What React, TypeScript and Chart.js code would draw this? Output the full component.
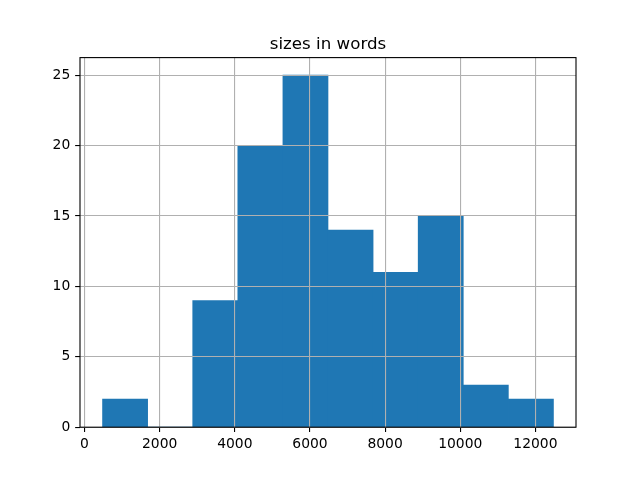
import React, { useEffect, useRef } from "react";
import { Chart, registerables } from "chart.js";

Chart.register(...registerables);

const binEdges = [480, 1680, 2880, 4080, 5280, 6480, 7680, 8880, 10080, 11280, 12480];
const counts = [2, 0, 9, 20, 25, 14, 11, 15, 3, 2];
const xTicks = [0, 2000, 4000, 6000, 8000, 10000, 12000];
const yTicks = [0, 5, 10, 15, 20, 25];
const titleText = "sizes in words";

const FONT = "'DejaVu Sans', sans-serif";

export default function App() {
  const ref = useRef<HTMLCanvasElement>(null);

  useEffect(() => {
    document.body.style.margin = "0";
    const canvas = ref.current;
    if (!canvas) return;
    const centers = counts.map((_, i) => (binEdges[i] + binEdges[i + 1]) / 2);
    const data = centers.map((x, i) => ({ x, y: counts[i] }));

    const frame = {
      id: "frame",
      afterDraw(chart: any) {
        const { ctx, chartArea } = chart;
        ctx.save();
        ctx.strokeStyle = "#000";
        ctx.lineWidth = 1.1;
        ctx.strokeRect(chartArea.left, chartArea.top, chartArea.right - chartArea.left, chartArea.bottom - chartArea.top);
        ctx.fillStyle = "#000";
        ctx.font = `16.67px ${FONT}`;
        ctx.textAlign = "center";
        ctx.textBaseline = "alphabetic";
        ctx.fillText(titleText, (chartArea.left + chartArea.right) / 2, chartArea.top - 8.3);
        ctx.restore();
      },
    };

    const chart = new Chart(canvas, {
      type: "bar",
      data: {
        datasets: [
          {
            data,
            backgroundColor: "#1f77b4",
            borderWidth: 0,
            barPercentage: 1,
            categoryPercentage: 1,
          },
        ],
      },
      options: {
        animation: false,
        responsive: false,
        maintainAspectRatio: false,
        layout: { padding: { left: 0, right: 64, top: 57.6, bottom: 0 } },
        plugins: {
          legend: { display: false },
          tooltip: { enabled: false },
          title: { display: false },
        },
        scales: {
          x: {
            type: "linear",
            offset: false,
            min: -120,
            max: 13080,
            afterFit: (s: any) => {
              s.height = 52.8;
            },
            afterBuildTicks: (s: any) => {
              s.ticks = xTicks.map((v) => ({ value: v }));
            },
            ticks: {
              color: "#000",
              font: { family: FONT, size: 13.89 },
              padding: 4.5,
              maxRotation: 0,
              autoSkip: false,
              callback: (v: any) => String(v),
            },
            grid: {
              color: "#b0b0b0",
              lineWidth: 1.1,
              z: 1,
              tickColor: "#000",
              tickLength: 4.86,
              tickWidth: 1.1,
              offset: false,
            },
            border: { display: false },
          },
          y: {
            type: "linear",
            min: 0,
            max: 26.25,
            afterFit: (s: any) => {
              s.width = 80;
            },
            afterBuildTicks: (s: any) => {
              s.ticks = yTicks.map((v) => ({ value: v }));
            },
            ticks: {
              color: "#000",
              font: { family: FONT, size: 13.89 },
              padding: 4.86,
              autoSkip: false,
              callback: (v: any) => String(v),
            },
            grid: {
              color: "#b0b0b0",
              lineWidth: 1.1,
              z: 1,
              tickColor: "#000",
              tickLength: 4.86,
              tickWidth: 1.1,
            },
            border: { display: false },
          },
        },
      },
      plugins: [frame],
    });
    return () => chart.destroy();
  }, []);

  return (
    <div style={{ width: 640, height: 480, background: "#fff" }}>
      <canvas ref={ref} width={640} height={480} style={{ width: 640, height: 480, display: "block" }} />
    </div>
  );
}
